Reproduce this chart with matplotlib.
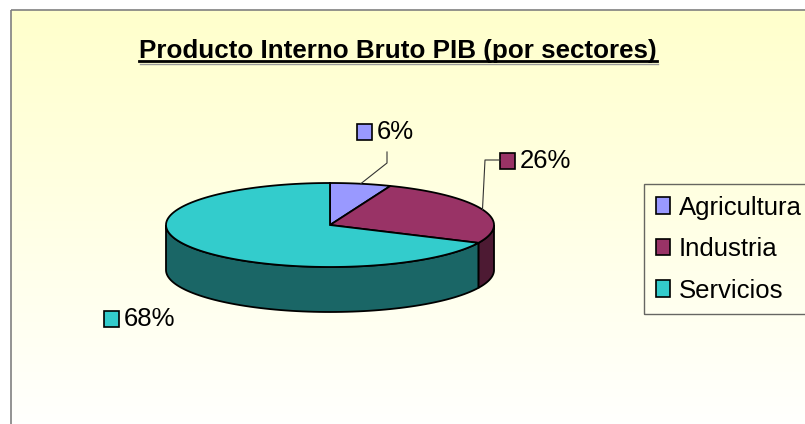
import numpy as np
import matplotlib.pyplot as plt
from matplotlib.patches import Polygon, Rectangle, Patch

# data
sectors = ['Agricultura', 'Industria', 'Servicios']
shares = [6, 26, 68]
top_colors = ['#9999FF', '#993366', '#33CCCC']
side_colors = ['#4D4D80', '#4D1A33', '#1A6666']
title = 'Producto Interno Bruto PIB (por sectores)'

# layout (pixels)
W, H = 805, 424
cx, cy = 330, 225
rx, ry = 164, 42
depth = 45
label_boxes = [(357, 124), (500, 153), (104, 311)]   # top-left of label marker
leader_bends = [[(387, 163), (387, 152)], [(485, 160), (500, 160)], None]

plt.rcParams['font.family'] = ['Liberation Sans', 'DejaVu Sans']

fig = plt.figure(figsize=(W / 100, H / 100), dpi=100)
ax = fig.add_axes([0, 0, 1, 1])
ax.set_xlim(0, W)
ax.set_ylim(H, 0)
ax.axis('off')

# chart area gradient + border
grad = np.linspace(0, 1, 256).reshape(-1, 1)
c0 = np.array([1.0, 1.0, 0.80])
c1 = np.array([1.0, 1.0, 1.0])
img = c0[None, None, :] * (1 - grad[:, :, None]) + c1[None, None, :] * grad[:, :, None]
ax.imshow(img, extent=(11, W + 5, 440, 10), aspect='auto', zorder=0)
ax.add_patch(Rectangle((11, 10), W, H, fill=False, edgecolor='#808080', lw=1.2, zorder=1))


def pt(theta, dy=0):
    t = np.radians(theta)
    return cx + rx * np.sin(t), cy - ry * np.cos(t) + dy


bounds = np.concatenate([[0], np.cumsum(shares)]) * 3.6

# side faces
for i in range(len(shares)):
    a, b = max(bounds[i], 90), min(bounds[i + 1], 270)
    if a >= b:
        continue
    th = np.linspace(a, b, 80)
    topx, topy = pt(th)
    botx, boty = pt(th[::-1], depth)
    verts = np.column_stack([np.r_[topx, botx], np.r_[topy, boty]])
    ax.add_patch(Polygon(verts, closed=True, facecolor=side_colors[i],
                         edgecolor='black', lw=1.3, zorder=2))

# top faces
handles = []
for i in range(len(shares)):
    th = np.linspace(bounds[i], bounds[i + 1], 120)
    x, y = pt(th)
    verts = np.column_stack([np.r_[cx, x], np.r_[cy, y]])
    ax.add_patch(Polygon(verts, closed=True, facecolor=top_colors[i],
                         edgecolor='black', lw=1.3, zorder=3))
    handles.append(Patch(facecolor=top_colors[i], edgecolor='black', lw=1.2, label=sectors[i]))

# data labels
for i in range(len(shares)):
    bx, by = label_boxes[i]
    ax.add_patch(Rectangle((bx, by), 15, 16, facecolor=top_colors[i],
                           edgecolor='black', lw=1.2, zorder=4))
    ax.text(bx + 20, by + 8, f'{shares[i]}%', fontsize=18.5, va='center', ha='left', zorder=4)
    if leader_bends[i] is not None:
        mx, my = pt((bounds[i] + bounds[i + 1]) / 2)
        xs = [mx] + [p[0] for p in leader_bends[i]]
        ys = [my] + [p[1] for p in leader_bends[i]]
        ax.plot(xs, ys, color='#333333', lw=0.8, zorder=4)

# legend
leg = ax.legend(handles=handles, loc='upper left', bbox_to_anchor=(644 / W, 1 - 184 / H),
                fontsize=18.5, frameon=True, fancybox=False, handlelength=0.55,
                handleheight=0.6, handletextpad=0.35, labelspacing=0.68,
                borderpad=0.45, borderaxespad=0)
leg.get_frame().set_edgecolor('#404040')
leg.get_frame().set_facecolor('none')
leg.get_frame().set_linewidth(1.0)

# title with underline
t = ax.text(398, 58, title, fontsize=18.7, fontweight='bold', ha='center', va='baseline', zorder=5)
fig.canvas.draw()
bb = t.get_window_extent().transformed(ax.transData.inverted())
ax.plot([bb.x0, bb.x1], [61, 61], color='black', lw=2, zorder=5)
ax.plot([bb.x0 + 1, bb.x1 + 1], [63.5, 63.5], color='#999999', lw=1, zorder=4)

fig.savefig('out.png', dpi=100)
